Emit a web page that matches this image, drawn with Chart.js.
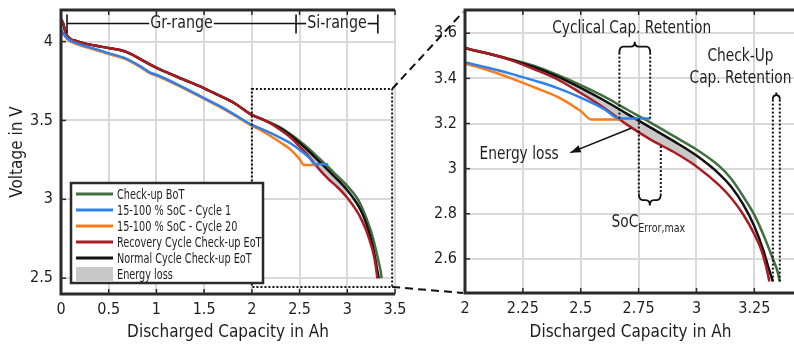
<!DOCTYPE html>
<html>
<head>
<meta charset="utf-8">
<script src="https://cdn.jsdelivr.net/npm/chart.js@4.4.0/dist/chart.umd.min.js"></script>
<style>
  body { margin: 0; width: 794px; height: 347px; overflow: hidden; background: #fff; position: relative; }
  canvas { position: absolute; top: 0; }
  #left { left: 0; }
  #right { left: 380px; }
</style>
</head>
<body>
<canvas id="left" width="430" height="347"></canvas>
<canvas id="right" width="416" height="347"></canvas>
<script>
// Discharge curves, capacity in Ah / voltage in V
const botAh = [0, 0.02, 0.056, 0.18, 0.35, 0.49, 0.67, 0.84, 0.93, 1.02, 1.28, 1.49, 1.65, 1.81, 2.0, 2.1, 2.2, 2.3, 2.4, 2.5, 2.6, 2.7, 2.8, 2.9, 3.0, 3.1, 3.15, 3.2, 3.25, 3.3, 3.33, 3.35, 3.36];
const botV  = [4.14, 4.12, 4.044, 4.0, 3.975, 3.96, 3.938, 3.886, 3.855, 3.828, 3.76, 3.707, 3.66, 3.612, 3.535, 3.51, 3.484, 3.455, 3.415, 3.37, 3.32, 3.262, 3.205, 3.145, 3.085, 3.01, 2.955, 2.88, 2.795, 2.68, 2.6, 2.545, 2.5];

const cyc1Ah = [0, 0.02, 0.07, 0.18, 0.35, 0.49, 0.67, 0.84, 0.93, 1.02, 1.28, 1.49, 1.65, 1.81, 2.0, 2.1, 2.2, 2.3, 2.4, 2.5, 2.6, 2.667, 2.8];
const cyc1V  = [4.07, 4.055, 4.018, 3.985, 3.955, 3.928, 3.895, 3.84, 3.805, 3.785, 3.71, 3.645, 3.595, 3.54, 3.472, 3.447, 3.42, 3.39, 3.357, 3.315, 3.265, 3.222, 3.222];

const cyc20Ah = [0, 0.02, 0.07, 0.18, 0.35, 0.49, 0.67, 0.84, 0.93, 1.02, 1.28, 1.49, 1.65, 1.81, 2.0, 2.1, 2.2, 2.3, 2.4, 2.5, 2.545, 2.667];
const cyc20V  = [4.06, 4.05, 4.013, 3.98, 3.95, 3.922, 3.89, 3.835, 3.8, 3.78, 3.705, 3.64, 3.59, 3.535, 3.466, 3.436, 3.4, 3.36, 3.318, 3.255, 3.218, 3.218];

const recAh = [0, 0.02, 0.056, 0.18, 0.35, 0.49, 0.67, 0.84, 0.93, 1.02, 1.28, 1.49, 1.65, 1.81, 2.0, 2.1, 2.2, 2.3, 2.4, 2.5, 2.6, 2.7, 2.8, 2.9, 3.0, 3.1, 3.15, 3.2, 3.25, 3.28, 3.3, 3.315];
const recV  = [4.14, 4.12, 4.044, 4.0, 3.975, 3.96, 3.938, 3.886, 3.855, 3.828, 3.76, 3.707, 3.66, 3.612, 3.535, 3.51, 3.48, 3.44, 3.395, 3.335, 3.27, 3.195, 3.13, 3.075, 3.01, 2.925, 2.87, 2.8, 2.71, 2.64, 2.57, 2.5];

const normAh = [0, 0.02, 0.056, 0.18, 0.35, 0.49, 0.67, 0.84, 0.93, 1.02, 1.28, 1.49, 1.65, 1.81, 2.0, 2.1, 2.2, 2.3, 2.4, 2.5, 2.6, 2.7, 2.8, 2.9, 3.0, 3.1, 3.15, 3.2, 3.25, 3.29, 3.31, 3.33];
const normV  = [4.14, 4.12, 4.044, 4.0, 3.975, 3.96, 3.938, 3.886, 3.855, 3.828, 3.76, 3.707, 3.66, 3.612, 3.535, 3.51, 3.482, 3.45, 3.408, 3.358, 3.303, 3.243, 3.183, 3.123, 3.058, 2.975, 2.92, 2.845, 2.745, 2.635, 2.565, 2.5];

// energy loss band: between normal and recovery check-up in this capacity range
const lossRange = [2.3, 3.0];

const seriesNames = ['Check-up BoT', '15-100 % SoC - Cycle 1', '15-100 % SoC - Cycle 20', 'Recovery Cycle Check-up EoT', 'Normal Cycle Check-up EoT', 'Energy loss'];

// axes
const leftXTicks = [0, 0.5, 1, 1.5, 2, 2.5, 3, 3.5];
const leftYTicks = [2.5, 3, 3.5, 4];
const rightXTicks = [2, 2.25, 2.5, 2.75, 3, 3.25];
const rightYTicks = [2.6, 2.8, 3, 3.2, 3.4, 3.6];

// zoom window shown on the left (Ah, V)
const zoomBoxAh = [2.0, 3.47];
const zoomBoxV = [2.445, 3.70];

// range marker on the left: Gr-range / Si-range
const rangeEdges = [0.063, 2.463, 3.32];
const rangeLevel = 4.114;

const FONT = "'DejaVu Sans Condensed', 'Liberation Sans Narrow', 'Liberation Sans', sans-serif";
const INK = '#1e1e1e';
const COLORS = { bot: '#41703f', cyc1: '#2f80e8', cyc20: '#ff7a1a', rec: '#a81d24', norm: '#111111', loss: '#c8c8c8' };

Chart.defaults.font.family = FONT;
Chart.defaults.color = INK;

const pts = (xs, ys) => xs.map((x, i) => ({ x, y: ys[i] }));

function makeDatasets() {
  const lossAh = normAh.filter(x => x >= lossRange[0] && x <= lossRange[1]);
  const lossV = lossAh.map(x => normV[normAh.indexOf(x)]);
  const line = (label, data, color) => ({
    label, data, borderColor: color, backgroundColor: color, borderWidth: 2.5,
    pointRadius: 0, cubicInterpolationMode: 'monotone', fill: false
  });
  return [
    line(seriesNames[1], pts(cyc1Ah, cyc1V), COLORS.cyc1),
    line(seriesNames[2], pts(cyc20Ah, cyc20V), COLORS.cyc20),
    line(seriesNames[3], pts(recAh, recV), COLORS.rec),
    line(seriesNames[4], pts(normAh, normV), COLORS.norm),
    line(seriesNames[0], pts(botAh, botV), COLORS.bot),
    { label: seriesNames[5], data: pts(lossAh, lossV), borderWidth: 0, pointRadius: 0,
      cubicInterpolationMode: 'monotone', fill: { target: 2 }, backgroundColor: COLORS.loss, borderColor: 'rgba(0,0,0,0)' }
  ];
}

function seg(ctx, x1, y1, x2, y2) {
  ctx.beginPath(); ctx.moveTo(x1, y1); ctx.lineTo(x2, y2); ctx.stroke();
}

// text squeezed horizontally, the original uses a condensed face
function text(ctx, str, x, y, size, squeeze) {
  ctx.save();
  ctx.font = size + 'px ' + FONT;
  ctx.translate(x, y);
  ctx.scale(squeeze, 1);
  ctx.fillText(str, 0, 0);
  const w = ctx.measureText(str).width * squeeze;
  ctx.restore();
  return w;
}

// horizontal curly brace, dir -1 = tip up, 1 = tip down
function brace(ctx, x1, x2, y0, h, dir) {
  const xm = (x1 + x2) / 2, ym = y0 + dir * h * 0.55, yt = y0 + dir * h;
  const r = Math.min(4, (x2 - x1) / 4);
  ctx.beginPath();
  ctx.moveTo(x1, y0);
  ctx.quadraticCurveTo(x1, ym, x1 + r, ym);
  ctx.lineTo(xm - r, ym);
  ctx.quadraticCurveTo(xm, ym, xm, yt);
  ctx.quadraticCurveTo(xm, ym, xm + r, ym);
  ctx.lineTo(x2 - r, ym);
  ctx.quadraticCurveTo(x2, ym, x2, y0);
  ctx.stroke();
}

// box + inward tick marks
const framePlugin = {
  id: 'frame',
  afterDatasetsDraw(chart) {
    const { ctx, chartArea: a, scales: { x, y } } = chart;
    ctx.save();
    ctx.strokeStyle = '#2a2a2a';
    ctx.lineWidth = 1.5;
    x.ticks.forEach(t => {
      const px = x.getPixelForValue(t.value);
      seg(ctx, px, a.bottom, px, a.bottom - 5);
      seg(ctx, px, a.top, px, a.top + 5);
    });
    y.ticks.forEach(t => {
      const py = y.getPixelForValue(t.value);
      seg(ctx, a.left, py, a.left + 5, py);
    });
    ctx.lineWidth = 3;
    ctx.beginPath();
    ctx.moveTo(a.right, a.top);
    ctx.lineTo(a.left, a.top);
    ctx.lineTo(a.left, a.bottom);
    ctx.lineTo(a.right, a.bottom);
    ctx.stroke();
    ctx.restore();
  }
};

function dotted(ctx) {
  ctx.strokeStyle = '#111';
  ctx.lineWidth = 2;
  ctx.setLineDash([2, 2]);
}

const leftNotes = {
  id: 'leftNotes',
  afterDraw(chart) {
    const { ctx, chartArea: a, scales: { x, y } } = chart;
    ctx.save();
    // Gr-range / Si-range marker
    ctx.strokeStyle = '#111';
    ctx.lineWidth = 1.6;
    ctx.fillStyle = INK;
    ctx.textAlign = 'center';
    ctx.textBaseline = 'middle';
    const yb = y.getPixelForValue(rangeLevel);
    const ex = rangeEdges.map(v => x.getPixelForValue(v));
    const labels = [['Gr-range', ex[0], ex[1]], ['Si-range', ex[1], ex[2]]];
    labels.forEach(([txt, x0, x1]) => {
      const cx = (x0 + x1) / 2;
      const w = text(ctx, txt, cx, yb, 18, 0.88);
      seg(ctx, x0, yb, cx - w / 2 - 1, yb);
      seg(ctx, cx + w / 2 + 1, yb, x1, yb);
    });
    ex.forEach(px => seg(ctx, px, yb - 9, px, yb + 10));

    // zoom window
    dotted(ctx);
    const bx0 = x.getPixelForValue(zoomBoxAh[0]), bx1 = x.getPixelForValue(zoomBoxAh[1]);
    const by0 = y.getPixelForValue(zoomBoxV[1]), by1 = y.getPixelForValue(zoomBoxV[0]);
    ctx.strokeRect(bx0, by0, bx1 - bx0, by1 - by0);
    ctx.setLineDash([]);

    // legend
    const lx = a.left + 10, ly = a.top + 173, lw = 192, lh = 100;
    ctx.fillStyle = '#fff';
    ctx.fillRect(lx, ly, lw, lh);
    ctx.strokeStyle = '#2a2a2a';
    ctx.lineWidth = 2.5;
    ctx.strokeRect(lx, ly, lw, lh);
    const entryColors = [COLORS.bot, COLORS.cyc1, COLORS.cyc20, COLORS.rec, COLORS.norm];
    ctx.textAlign = 'left';
    seriesNames.forEach((name, i) => {
      const ry = ly + 11 + i * 16;
      if (i < 5) {
        ctx.strokeStyle = entryColors[i];
        ctx.lineWidth = 3;
        seg(ctx, lx + 5, ry, lx + 42, ry);
      } else {
        ctx.fillStyle = COLORS.loss;
        ctx.fillRect(lx + 5, ry - 7, 37, 14);
      }
      ctx.fillStyle = INK;
      text(ctx, name, lx + 46, ry + 1, 13.5, 0.8);
    });
    ctx.restore();
  }
};

// annotation anchors on the right panel (Ah, V)
const cycRetTop = 3.514;
const socErrAh = [2.751, 2.846];
const socErrBottom = 2.89;
const checkRetTop = 3.306;
const energyLabel = { ah: 2.234, v: 3.062 };
const energyArrow = { fromAh: 2.72, fromV: 3.18, toAh: 2.455, toV: 3.071 };

let leftChart;

const rightNotes = {
  id: 'rightNotes',
  afterDraw(chart) {
    const { ctx, chartArea: a, scales: { x, y } } = chart;
    const X = v => x.getPixelForValue(v), Y = v => y.getPixelForValue(v);
    ctx.save();

    // dashed connectors from the zoom window on the left
    const off = chart.canvas.offsetLeft - leftChart.canvas.offsetLeft;
    const lx = leftChart.scales.x.getPixelForValue(zoomBoxAh[1]) - off;
    const lyTop = leftChart.scales.y.getPixelForValue(zoomBoxV[1]);
    const lyBot = leftChart.scales.y.getPixelForValue(zoomBoxV[0]);
    ctx.strokeStyle = '#111';
    ctx.lineWidth = 2;
    ctx.setLineDash([8, 5]);
    seg(ctx, lx, lyTop, a.left - 2, a.top + 2);
    seg(ctx, lx, lyBot, a.left - 2, a.bottom);

    // cyclical capacity retention
    const c20End = cyc20Ah.length - 1, c1End = cyc1Ah.length - 1;
    dotted(ctx);
    seg(ctx, X(cyc20Ah[c20End]), Y(cycRetTop), X(cyc20Ah[c20End]), Y(cyc20V[c20End]));
    seg(ctx, X(cyc1Ah[c1End]), Y(cycRetTop), X(cyc1Ah[c1End]), Y(cyc1V[c1End]));
    // SoC error
    const recAtSoc = 3.10;
    seg(ctx, X(socErrAh[0]), Y(cyc1V[c1End]), X(socErrAh[0]), Y(socErrBottom));
    seg(ctx, X(socErrAh[1]), Y(recAtSoc), X(socErrAh[1]), Y(socErrBottom));
    // check-up capacity retention
    const nEnd = normAh.length - 1, bEnd = botAh.length - 1;
    seg(ctx, X(normAh[nEnd]), Y(checkRetTop), X(normAh[nEnd]), Y(normV[nEnd]));
    seg(ctx, X(botAh[bEnd]), Y(checkRetTop), X(botAh[bEnd]), Y(botV[bEnd]));

    ctx.setLineDash([]);
    ctx.lineWidth = 1.8;
    brace(ctx, X(cyc20Ah[c20End]), X(cyc1Ah[c1End]), Y(cycRetTop), 11, -1);
    brace(ctx, X(socErrAh[0]), X(socErrAh[1]), Y(socErrBottom), 12, 1);
    brace(ctx, X(normAh[nEnd]), X(botAh[bEnd]), Y(checkRetTop), 7, -1);

    // arrow to energy loss
    const ax0 = X(energyArrow.fromAh), ay0 = Y(energyArrow.fromV);
    const ax1 = X(energyArrow.toAh), ay1 = Y(energyArrow.toV);
    ctx.lineWidth = 1.6;
    seg(ctx, ax0, ay0, ax1, ay1);
    const ang = Math.atan2(ay1 - ay0, ax1 - ax0);
    ctx.fillStyle = '#111';
    ctx.beginPath();
    ctx.moveTo(ax1, ay1);
    ctx.lineTo(ax1 - 11 * Math.cos(ang - 0.35), ay1 - 11 * Math.sin(ang - 0.35));
    ctx.lineTo(ax1 - 11 * Math.cos(ang + 0.35), ay1 - 11 * Math.sin(ang + 0.35));
    ctx.closePath();
    ctx.fill();

    // labels
    ctx.fillStyle = INK;
    ctx.textBaseline = 'middle';
    ctx.textAlign = 'center';
    text(ctx, 'Cyclical Cap. Retention', X(2.72), Y(3.62), 17, 0.9);
    text(ctx, 'Energy loss', X(energyLabel.ah), Y(energyLabel.v), 17, 0.9);
    text(ctx, 'Check-Up', X(3.19), Y(3.496), 17, 0.9);
    text(ctx, 'Cap. Retention', X(3.19), Y(3.40), 17, 0.9);
    ctx.textAlign = 'left';
    const sx = X(2.633), sy = Y(2.761);
    const sw = text(ctx, 'SoC', sx, sy, 18, 0.85);
    text(ctx, 'Error,max', sx + sw, sy + 6, 12, 0.88);
    ctx.restore();
  }
};

function axisOptions(min, max, ticks, width, height, titleText, isY) {
  const o = {
    type: 'linear', min, max,
    grid: { color: '#d9d9d9', lineWidth: 2, drawTicks: false },
    border: { display: false },
    ticks: { autoSkip: false, maxRotation: 0, font: { size: 16 }, color: INK, padding: isY ? 8 : 6, callback: v => String(v) },
    afterBuildTicks: s => { s.ticks = ticks.map(v => ({ value: v })); },
    afterFit: s => {
      if (isY) { s.width = width; s.paddingTop = 0; s.paddingBottom = 0; }
      else { s.height = height; s.paddingLeft = 0; s.paddingRight = 0; }
    }
  };
  if (titleText) {
    o.title = { display: true, text: titleText, font: { size: 17 }, color: INK, padding: isY ? { top: 7, bottom: 0 } : { top: 0, bottom: 4 } };
  }
  return o;
}

leftChart = new Chart(document.getElementById('left'), {
  type: 'line',
  data: { datasets: makeDatasets() },
  options: {
    responsive: false, animation: false,
    layout: { padding: { left: 0, right: 35, top: 10, bottom: 0 } },
    plugins: { legend: { display: false }, tooltip: { enabled: false } },
    scales: {
      x: axisOptions(0, 3.5, leftXTicks, 0, 53, 'Discharged Capacity in Ah', false),
      y: axisOptions(2.4, 4.2, leftYTicks, 61, 0, 'Voltage in V', true)
    }
  },
  plugins: [framePlugin, leftNotes]
});

new Chart(document.getElementById('right'), {
  type: 'line',
  data: { datasets: makeDatasets() },
  options: {
    responsive: false, animation: false,
    layout: { padding: { left: 0, right: 0, top: 10, bottom: 0 } },
    plugins: { legend: { display: false }, tooltip: { enabled: false } },
    scales: {
      x: axisOptions(2, 3.43, rightXTicks, 0, 54, 'Discharged Capacity in Ah', false),
      y: axisOptions(2.449, 3.703, rightYTicks, 85, 0, null, true)
    }
  },
  plugins: [framePlugin, rightNotes]
});
</script>
</body>
</html>
